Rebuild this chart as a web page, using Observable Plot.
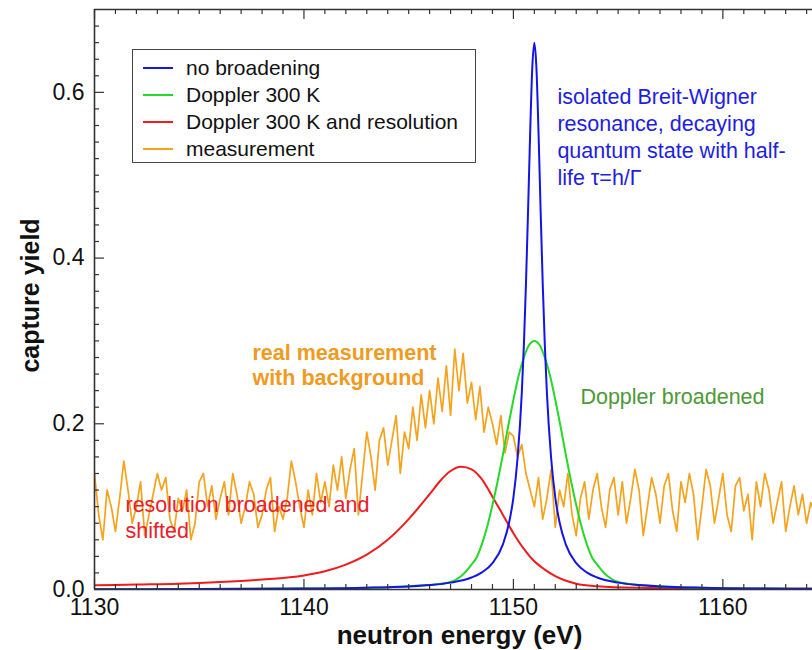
<!DOCTYPE html>
<html><head><meta charset="utf-8">
<script src="https://cdn.jsdelivr.net/npm/d3@7"></script>
<script src="https://cdn.jsdelivr.net/npm/@observablehq/plot@0.6"></script>
<style>
body{margin:0;background:#fff;font-family:"Liberation Sans",Arial,Helvetica,sans-serif}
#wrap{position:relative;width:812px;height:650px;overflow:hidden}
#legend{position:absolute;left:132px;top:49px;width:344px;height:114px;border:1.3px solid #444;box-sizing:border-box;background:#fff}
.item{position:absolute;left:0;height:24px;line-height:24px;font-size:21px;color:#111;white-space:nowrap}
.sw{position:absolute;left:10px;top:11px;width:30px;height:2.4px}
.lb{position:absolute;left:53px;top:0}
</style></head>
<body><div id="wrap"></div>
<script>
// ---- data ----
const seriesNames = ["no broadening", "Doppler 300 K", "Doppler 300 K and resolution", "measurement"];
const seriesColors = ["#1414e6", "#25d92a", "#ee1c1c", "#f5a31c"];

const blueE = [1130,1135,1140,1143,1145,1146,1147,1148,1148.5,1149,1149.5,1149.8,1150,1150.2,1150.4,1150.5,1150.6,1150.7,1150.8,1150.9,1151,
  1151.1,1151.2,1151.3,1151.4,1151.5,1151.6,1151.8,1152,1152.2,1152.5,1153,1153.5,1154,1155,1156,1157,1159,1162,1165];
const blueY = [0.0003,0.0005,0.0011,0.0021,0.0037,0.0053,0.0083,0.0145,0.0207,0.0318,0.0545,0.0814,0.111,0.159,0.237,0.295,0.369,0.457,0.551,0.629,0.66,
  0.629,0.551,0.457,0.369,0.295,0.237,0.159,0.111,0.0814,0.0545,0.0318,0.0207,0.0145,0.0083,0.0053,0.0037,0.0021,0.0011,0.0007];

const greenE = [1130,1135,1140,1143,1145,1146,1147,1147.5,1148,1148.25,1148.5,1148.75,1149,1149.25,1149.5,1149.75,1150,1150.25,1150.5,1150.75,1151,
  1151.25,1151.5,1151.75,1152,1152.25,1152.5,1152.75,1153,1153.25,1153.5,1153.75,1154,1154.5,1155,1156,1157,1159,1162,1165];
const greenY = [0.0003,0.0006,0.0011,0.002,0.0038,0.0055,0.009,0.016,0.030,0.039,0.055,0.076,0.102,0.131,0.163,0.197,0.229,0.258,0.280,0.295,0.300,
  0.295,0.280,0.258,0.229,0.197,0.163,0.131,0.102,0.076,0.055,0.039,0.030,0.016,0.009,0.0055,0.0038,0.002,0.0011,0.0007];

const redE = [1130,1132,1134,1136,1138,1140,1141,1142,1143,1144,1145,1146,1146.5,1147,1147.5,1148,1148.5,1149,1149.5,1150,1150.5,1151,1151.5,1152,1153,1154,1156,1160,1165];
const redY = [0.005,0.006,0.007,0.009,0.012,0.017,0.022,0.030,0.042,0.060,0.085,0.115,0.131,0.143,0.148,0.145,0.133,0.112,0.090,0.068,0.049,0.034,0.024,0.016,0.007,0.004,0.002,0.001,0.001];

const measStart = 1130, measStep = 0.2;
const measY = [
 0.14,0.09,0.06,0.12,0.10,   0.07,0.11,0.155,0.12,0.08,  0.10,0.13,0.065,0.09,0.115,  0.14,0.12,0.135,0.085,0.07,
 0.11,0.095,0.12,0.06,0.08,  0.13,0.14,0.10,0.125,0.085, 0.11,0.13,0.09,0.14,0.115,   0.08,0.10,0.13,0.115,0.075,
 0.09,0.12,0.135,0.07,0.10,  0.085,0.11,0.155,0.13,0.10, 0.075,0.12,0.09,0.14,0.105,  0.13,0.10,0.15,0.12,0.16,
 0.11,0.145,0.17,0.09,0.14,  0.19,0.16,0.12,0.18,0.195,  0.15,0.18,0.21,0.14,0.19,    0.17,0.22,0.18,0.235,0.195,
 0.24,0.20,0.255,0.215,0.27, 0.21,0.29,0.24,0.285,0.225, 0.25,0.205,0.245,0.19,0.22,  0.20,0.175,0.21,0.165,0.19,
 0.185,0.16,0.175,0.14,0.12, 0.10,0.135,0.085,0.11,0.145, 0.075,0.12,0.10,0.14,0.09,  0.065,0.11,0.13,0.085,0.12,
 0.14,0.10,0.075,0.12,0.135, 0.09,0.13,0.08,0.11,0.145,  0.12,0.065,0.10,0.135,0.115, 0.08,0.125,0.14,0.095,0.07,
 0.13,0.105,0.14,0.115,0.06, 0.10,0.145,0.125,0.08,0.11, 0.14,0.09,0.07,0.125,0.135,  0.095,0.115,0.06,0.13,0.10,
 0.14,0.12,0.08,0.105,0.13,  0.07,0.10,0.125,0.09,0.115, 0.08,0.105,0.09,0.10,0.085];

const xTicks = [1130, 1140, 1150, 1160];
const yTicks = [0, 0.2, 0.4, 0.6];

const annotations = [
  {x: 1152.1, y: 0.548, text: "isolated Breit-Wigner\nresonance, decaying\nquantum state with half-\nlife τ=h/Γ", color: "#1e1ee0", weight: "normal", lh: 1.256},
  {x: 1137.54, y: 0.271, text: "real measurement\nwith background", color: "#f09a1e", weight: "bold", lh: 1.16},
  {x: 1153.2, y: 0.234, text: "Doppler broadened", color: "#4c9a36", weight: "normal", lh: 1.2},
  {x: 1131.48, y: 0.088, text: "resolution broadened and\nshifted", color: "#e8202a", weight: "normal", lh: 1.21}
];

// ---- build ----
const toRows = (E, Y) => E.map((e, i) => ({e, v: Y[i]}));
const meas = measY.map((v, i) => ({e: measStart + i * measStep, v}));
const xMinor = d3.range(1131, 1165).filter(d => d % 10 !== 0);
const yMinor = d3.range(1, 35).map(i => i * 0.02).filter((d, i) => (i + 1) % 10 !== 0);
const xDom = [1130, 1164.28], yDom = [0, 0.7];
// tick lengths (5 px minor, 10 px major) expressed in data units of the other axis
const tY5 = 0.7 * 5 / 580, tY10 = 0.7 * 10 / 580;
const tX5 = (xDom[1] - xDom[0]) * 5 / 718, tX10 = (xDom[1] - xDom[0]) * 10 / 718;
const tickStyle = {stroke: "#333", strokeWidth: 1.2};

const chart = Plot.plot({
  width: 812, height: 650,
  marginLeft: 94, marginRight: 0, marginTop: 9, marginBottom: 61,
  style: {fontFamily: "Liberation Sans, Arial, sans-serif", background: "#fff"},
  x: {domain: xDom},
  y: {domain: yDom},
  marks: [
    Plot.line(meas, {x: "e", y: "v", stroke: seriesColors[3], strokeWidth: 1.7, clip: true}),
    Plot.line(toRows(redE, redY), {x: "e", y: "v", stroke: seriesColors[2], strokeWidth: 2, curve: "monotone-x", clip: true}),
    Plot.line(toRows(greenE, greenY), {x: "e", y: "v", stroke: seriesColors[1], strokeWidth: 2, curve: "monotone-x", clip: true}),
    Plot.line(toRows(blueE, blueY), {x: "e", y: "v", stroke: seriesColors[0], strokeWidth: 2, curve: "monotone-x", clip: true}),
    // inward ticks
    Plot.ruleX(xMinor, {y1: 0, y2: tY5, ...tickStyle}),
    Plot.ruleX(xMinor, {y1: 0.7, y2: 0.7 - tY5, ...tickStyle}),
    Plot.ruleX(xTicks, {y1: 0, y2: tY10, ...tickStyle}),
    Plot.ruleX(xTicks, {y1: 0.7, y2: 0.7 - tY10, ...tickStyle}),
    Plot.ruleY(yMinor, {x1: 1130, x2: 1130 + tX5, ...tickStyle}),
    Plot.ruleY(yTicks, {x1: 1130, x2: 1130 + tX10, ...tickStyle}),
    // frame (left, bottom, top)
    Plot.ruleX([1130], {stroke: "#333", strokeWidth: 1.6}),
    Plot.ruleY([0], {stroke: "#333", strokeWidth: 1.6}),
    Plot.ruleY([0.7], {stroke: "#333", strokeWidth: 1.6}),
    Plot.axisX(xTicks, {tickSize: 0, tickPadding: 9, fontSize: 23, fill: "#111", label: null, tickFormat: d3.format("d")}),
    Plot.axisY(yTicks, {tickSize: 0, tickPadding: 10, fontSize: 23, fill: "#111", label: null, tickFormat: d3.format(".1f")}),
    Plot.text(["neutron energy (eV)"], {frameAnchor: "bottom", lineAnchor: "middle", textAnchor: "middle", dy: 46, dx: 6, fontSize: 26, fontWeight: "bold", fill: "#111"}),
    Plot.text(["capture yield"], {frameAnchor: "left", textAnchor: "middle", lineAnchor: "middle", dx: -64, dy: -4, rotate: -90, fontSize: 25, fontWeight: "bold", fill: "#111"}),
    ...annotations.map(a => Plot.text([a], {x: "x", y: "y", text: "text", textAnchor: "start", lineAnchor: "middle",
      fill: a.color, fontWeight: a.weight, fontSize: 21.5, lineHeight: a.lh}))
  ]
});

const wrap = document.getElementById("wrap");
wrap.appendChild(chart);
const leg = document.createElement("div");
leg.id = "legend";
const rowY = [18, 45, 72, 99];
seriesNames.forEach((name, i) => {
  const it = document.createElement("div");
  it.className = "item";
  it.style.top = (rowY[i] - 12) + "px";
  it.innerHTML = `<span class="sw" style="background:${seriesColors[i]}"></span><span class="lb">${name}</span>`;
  leg.appendChild(it);
});
wrap.appendChild(leg);
</script></body></html>
